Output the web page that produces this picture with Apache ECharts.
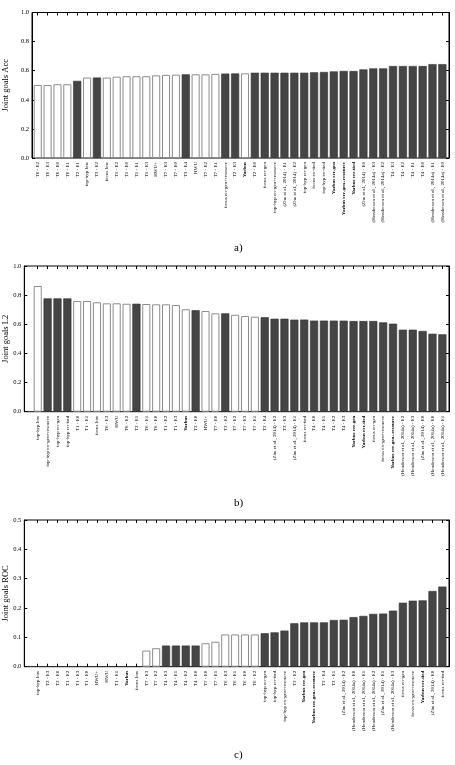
<!DOCTYPE html>
<html>
<head>
<meta charset="utf-8">
<script src="https://cdn.jsdelivr.net/npm/echarts@6/dist/echarts.min.js"></script>
<style>
  html, body { margin: 0; padding: 0; background: #fff; }
  #chart { width: 455px; height: 765px; }
</style>
</head>
<body>
<div id="chart"></div>
<script>
// a) joint goals accuracy
const accNames = ['T6 - E2', 'T6 - E3', 'T6 - E0', 'T6 - E1', 'T2 - E1', 'top-hyp low', 'T3 - E2', 'focus low',
  'T1 - E2', 'T1 - E0', 'T1 - E1', 'T1 - E3', 'HWU+', 'T7 - E3', 'T7 - E0', 'T3 - E4', 'HWU', 'T7 - E2', 'T7 - E1',
  'focus err-gen+resource', 'T2 - E3', 'Yarbus', 'T2 - E0', 'focus err-gen', 'top-hyp err-gen+resource',
  '(Zhu et al., 2014) - E1', '(Zhu et al., 2014) - E2', 'top-hyp err-gen', 'focus err-tied', 'top-hyp err-tied',
  'Yarbus err-gen', 'Yarbus err-gen+resource', 'Yarbus err-tied', '(Zhu et al., 2014) - E0',
  '(Henderson et al., 2014a) - E3', '(Henderson et al., 2014a) - E2', 'T4 - E3', 'T4 - E2', 'T4 - E1', 'T4 - E0',
  '(Henderson et al., 2014a) - E1', '(Henderson et al., 2014a) - E0'];
const accValues = [0.502, 0.502, 0.507, 0.507, 0.530, 0.553, 0.553, 0.553, 0.559, 0.562, 0.562, 0.562, 0.568, 0.571,
  0.573, 0.575, 0.575, 0.575, 0.578, 0.580, 0.581, 0.582, 0.586, 0.586, 0.586, 0.586, 0.586, 0.586, 0.589, 0.591,
  0.595, 0.598, 0.598, 0.609, 0.616, 0.616, 0.632, 0.632, 0.632, 0.632, 0.645, 0.645];

// b) joint goals L2
const l2Names = ['top-hyp low', 'top-hyp err-gen+resource', 'top-hyp err-gen', 'top-hyp err-tied', 'T1 - E0', 'T1 - E1',
  'focus low', 'T6 - E3', 'HWU', 'T6 - E2', 'T2 - E1', 'T6 - E1', 'T6 - E0', 'T1 - E2', 'T1 - E3', 'Yarbus', 'T2 - E0',
  'HWU+', 'T7 - E0', 'T3 - E2', 'T7 - E2', 'T7 - E3', 'T7 - E1', 'T3 - E4', '(Zhu et al., 2014) - E2', 'T2 - E3',
  '(Zhu et al., 2014) - E1', 'focus err-tied', 'T4 - E0', 'T4 - E1', 'T4 - E2', 'T4 - E3', 'Yarbus err-gen',
  'Yarbus err-tied', 'focus err-gen', 'focus err-gen+resource', 'Yarbus err-gen+resource',
  '(Henderson et al., 2014a) - E2', '(Henderson et al., 2014a) - E3', '(Zhu et al., 2014) - E0',
  '(Henderson et al., 2014a) - E0', '(Henderson et al., 2014a) - E1'];
const l2Values = [0.863, 0.778, 0.778, 0.778, 0.760, 0.760, 0.751, 0.744, 0.744, 0.741, 0.741, 0.739, 0.737, 0.737,
  0.732, 0.703, 0.696, 0.691, 0.675, 0.675, 0.665, 0.657, 0.652, 0.648, 0.638, 0.638, 0.632, 0.632, 0.625, 0.625,
  0.625, 0.625, 0.622, 0.622, 0.622, 0.613, 0.604, 0.563, 0.563, 0.554, 0.535, 0.531];

// c) joint goals ROC
const rocNames = ['top-hyp low', 'T2 - E3', 'T2 - E0', 'T1 - E2', 'T1 - E3', 'T1 - E0', 'HWU+', 'HWU', 'T1 - E1',
  'Yarbus', 'focus low', 'T7 - E3', 'T7 - E2', 'T4 - E3', 'T4 - E1', 'T4 - E2', 'T4 - E0', 'T7 - E0', 'T7 - E1',
  'T6 - E3', 'T6 - E1', 'T6 - E0', 'T6 - E2', 'top-hyp err-gen', 'top-hyp err-tied', 'top-hyp err-gen+resource',
  'T3 - E2', 'Yarbus err-gen', 'Yarbus err-gen+resource', 'T3 - E4', 'T2 - E1', '(Zhu et al., 2014) - E2',
  '(Henderson et al., 2014a) - E0', '(Henderson et al., 2014a) - E1', '(Henderson et al., 2014a) - E2',
  '(Zhu et al., 2014) - E1', '(Henderson et al., 2014a) - E3', 'focus err-gen', 'focus err-gen+resource',
  'Yarbus err-tied', '(Zhu et al., 2014) - E0', 'focus err-tied'];
const rocValues = [0, 0, 0, 0, 0, 0, 0, 0, 0, 0, 0, 0.055, 0.063, 0.072, 0.072, 0.072, 0.072, 0.080, 0.085, 0.110,
  0.110, 0.110, 0.110, 0.114, 0.117, 0.123, 0.148, 0.151, 0.151, 0.151, 0.159, 0.160, 0.169, 0.173, 0.180, 0.181,
  0.191, 0.218, 0.225, 0.226, 0.258, 0.273];

// dark bars: challenge teams T2-T4, published trackers and the err-* models
const darkPattern = /^T[234] |Zhu|Henderson|err-/;
const isDark = name => darkPattern.test(name);
const isBold = name => name.indexOf('Yarbus') === 0;

const W = 455, H = 765;
const SERIF = '"Liberation Serif", "DejaVu Serif", serif';

const panels = [
  { names: accNames, values: accValues, yName: 'Joint goals Acc', max: 1, step: 0.2, top: 12.5, bottom: 158, frameLeft: 32, nameGap: 22, tag: 'a)', tagY: 250 },
  { names: l2Names, values: l2Values, yName: 'Joint goals L2', max: 1, step: 0.2, top: 266, bottom: 411.7, frameLeft: 24.3, nameGap: 14, tag: 'b)', tagY: 505 },
  { names: rocNames, values: rocValues, yName: 'Joint goals ROC', max: 0.5, step: 0.1, top: 520, bottom: 666.7, frameLeft: 24.3, nameGap: 14, tag: 'c)', tagY: 757 }
];

const grid = [], xAxis = [], yAxis = [], series = [], graphic = [];

panels.forEach(p => {
  const g = grid.length;
  const ax = xAxis.length;
  const ay = yAxis.length;
  // frame
  grid.push({ left: p.frameLeft, right: W - 449, top: p.top, bottom: H - p.bottom, outerBoundsMode: 'none',
    show: true, borderColor: '#000', borderWidth: 1, backgroundColor: 'transparent' });
  // bar area
  grid.push({ left: 32.8, right: W - 447.3, top: p.top, bottom: H - p.bottom, outerBoundsMode: 'none' });

  xAxis.push({ gridIndex: g, type: 'value', min: 0, max: 1, show: false });
  yAxis.push({
    gridIndex: g, type: 'value', min: 0, max: p.max, interval: p.step,
    name: p.yName, nameLocation: 'middle', nameRotate: 90, nameGap: p.nameGap, nameMoveOverlap: false,
    nameTextStyle: { fontFamily: SERIF, fontSize: 8.5, color: '#000' },
    axisLine: { show: true, lineStyle: { color: '#000', width: 1 } },
    axisTick: { show: true, inside: true, length: 3, lineStyle: { color: '#000' } },
    axisLabel: { fontFamily: SERIF, fontSize: 6.5, color: '#000', margin: 3, formatter: v => v.toFixed(1) },
    splitLine: { show: false }
  });
  yAxis.push({
    gridIndex: g, type: 'value', position: 'right', min: 0, max: p.max, interval: p.step,
    axisLine: { show: true, lineStyle: { color: '#000', width: 1 } },
    axisTick: { show: true, inside: true, length: 3, lineStyle: { color: '#000' } },
    axisLabel: { show: false }, splitLine: { show: false }
  });

  xAxis.push({
    gridIndex: g + 1, type: 'category', data: p.names, position: 'bottom',
    axisLine: { show: false },
    axisTick: { show: true, inside: true, alignWithLabel: true, interval: 0, length: 3, lineStyle: { color: '#000' } },
    axisLabel: {
      interval: 0, rotate: 90, margin: 4, color: '#000', fontFamily: SERIF, fontSize: 5,
      formatter: name => isBold(name) ? '{b|' + name + '}' : name,
      rich: { b: { fontFamily: SERIF, fontSize: 5, fontWeight: 'bold', color: '#000' } }
    }
  });
  xAxis.push({
    gridIndex: g + 1, type: 'category', data: p.names, position: 'top',
    axisLine: { show: false },
    axisTick: { show: true, inside: true, alignWithLabel: true, interval: 0, length: 3, lineStyle: { color: '#000' } },
    axisLabel: { show: false }
  });
  yAxis.push({ gridIndex: g + 1, type: 'value', min: 0, max: p.max, show: false });

  series.push({
    type: 'bar', xAxisIndex: ax + 1, yAxisIndex: ay + 2,
    barCategoryGap: '18%',
    silent: true,
    data: p.values.map((v, k) => ({
      value: v,
      itemStyle: isDark(p.names[k])
        ? { color: '#454545', borderColor: '#333', borderWidth: v > 0 ? 0.6 : 0 }
        : { color: '#fff', borderColor: '#8c8c8c', borderWidth: v > 0 ? 1 : 0 }
    }))
  });

  graphic.push({
    type: 'text', left: 234, top: p.tagY - 7,
    style: { text: p.tag, fontFamily: SERIF, fontSize: 11, fill: '#000' }
  });
});

const chart = echarts.init(document.getElementById('chart'));
chart.setOption({
  animation: false,
  backgroundColor: '#fff',
  grid: grid,
  xAxis: xAxis,
  yAxis: yAxis,
  series: series,
  graphic: graphic
});
</script>
</body>
</html>
